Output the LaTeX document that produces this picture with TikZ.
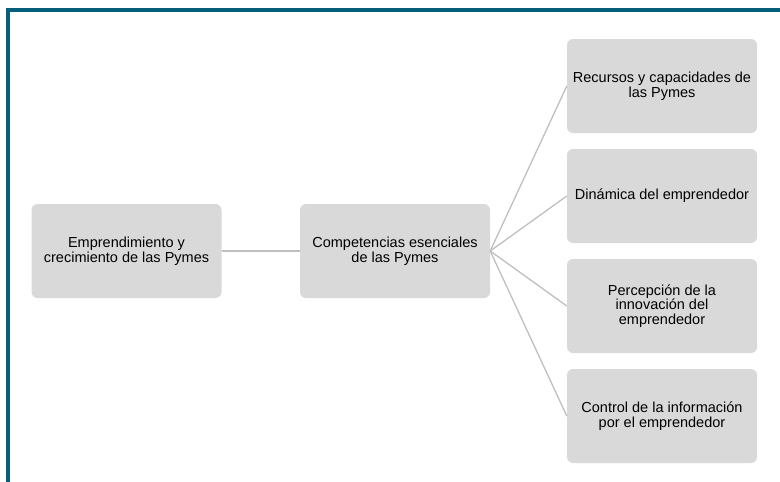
\documentclass[tikz,border=0pt]{standalone}
\usepackage{fontspec}
\setmainfont{Liberation Sans}
\definecolor{frame}{RGB}{5,95,122}
\definecolor{boxfill}{RGB}{217,217,217}
\definecolor{conn}{RGB}{191,191,191}
\begin{document}
\begin{tikzpicture}[x=1pt,y=-1pt,
  box/.style={fill=boxfill,rounded corners=6pt,minimum width=190pt,minimum height=94pt,
    align=center,font=\fontsize{14.5}{14.5}\selectfont,inner sep=0pt,text=black},
  link/.style={draw=conn,line width=1.3pt}]
\useasboundingbox (0,0) rectangle (780,482);
\fill[frame] (6,8) rectangle (780,11.7);
\fill[frame] (6,8) rectangle (10,482);
\node[box] (a) at (126.5,251) {Emprendimiento y\\crecimiento de las Pymes};
\node[box] (b) at (395,251) {Competencias esenciales\\de las Pymes};
\node[box] (c1) at (662,86) {Recursos y capacidades de\\las Pymes};
\node[box] (c2) at (662,196) {Dinámica del emprendedor};
\node[box] (c3) at (662,306) {Percepción de la\\innovación del\\emprendedor};
\node[box] (c4) at (662,416) {Control de la información\\por el emprendedor};
\draw[link] (a.east) -- (b.west);
\foreach \i in {1,2,3,4}{\draw[link] (b.east) -- (c\i.west);}
\end{tikzpicture}
\end{document}
